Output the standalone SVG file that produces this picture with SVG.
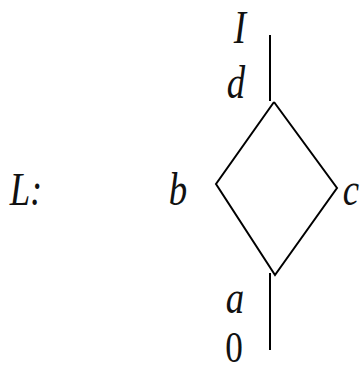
<svg xmlns="http://www.w3.org/2000/svg" width="363" height="371" viewBox="0 0 363 371">
<style>
.t{font-family:"Liberation Serif","Times New Roman",serif;font-style:italic;font-size:46px;fill:#111;text-anchor:middle}
.u{font-style:normal;font-size:44px}
.e{stroke:#000;stroke-width:2;fill:none}
</style>
<rect width="363" height="371" fill="#fff"/>
<g id="connectors">
<line class="e" x1="270" y1="35" x2="270" y2="101"/>
<polyline class="e" points="274,102 216,184 275,275 337,188 274,102"/>
<line class="e" x1="270" y1="273" x2="270" y2="350"/>
</g>
<g id="label-L"><text class="t" transform="translate(26,205) scale(0.8,1)">L:</text></g>
<g id="node-I"><text class="t" transform="translate(240,43) scale(0.8,1)">I</text></g>
<g id="node-d"><text class="t" transform="translate(236,98) scale(0.8,1)">d</text></g>
<g id="node-b"><text class="t" transform="translate(178,205) scale(0.8,1)">b</text></g>
<g id="node-c"><text class="t" transform="translate(351,205) scale(0.8,1)">c</text></g>
<g id="node-a"><text class="t" transform="translate(235,313) scale(0.8,1)">a</text></g>
<g id="node-0"><text class="t u" transform="translate(234,362) scale(0.8,1)">0</text></g>
</svg>
